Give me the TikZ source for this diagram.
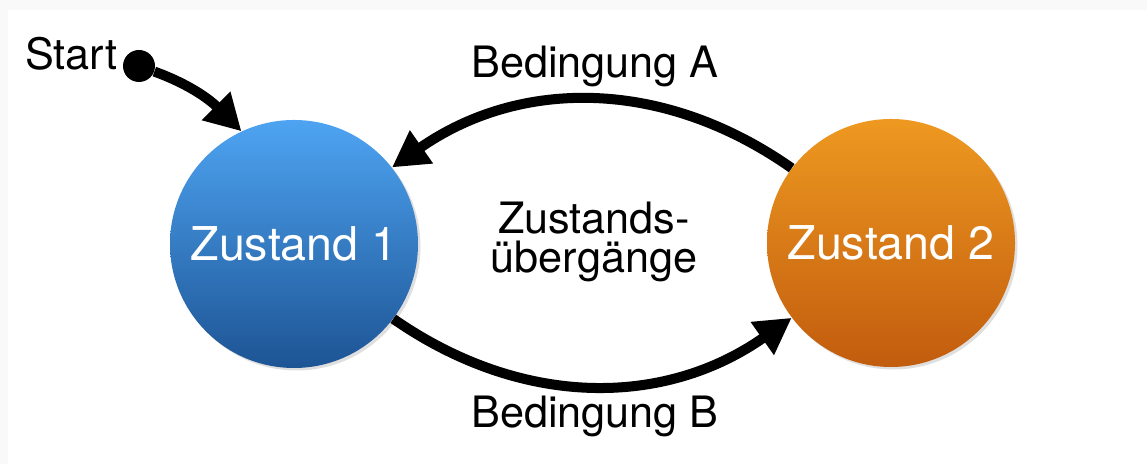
\documentclass[tikz,border=0pt]{standalone}
\usepackage{fontspec}
\setmainfont{TeX Gyre Heros}
\usepackage{tikz}
\usetikzlibrary{arrows.meta,positioning,shadows}
\definecolor{frameGray}{RGB}{249,249,249}
\definecolor{blueTop}{RGB}{78,164,242}
\definecolor{blueBottom}{RGB}{29,84,148}
\definecolor{orangeTop}{RGB}{238,153,33}
\definecolor{orangeBottom}{RGB}{194,92,14}

\begin{document}
\begin{tikzpicture}[
  state/.style={circle, minimum size=4.96cm, inner sep=0pt, text=white,
    font=\fontsize{26.5}{30}\selectfont,
    drop shadow={opacity=0.25, shadow xshift=0.05cm, shadow yshift=-0.05cm}},
  edgearrow/.style={line width=5.7pt, -{Triangle[length=0.72cm, width=0.76cm]}},
  lbl/.style={font=\fontsize{24.6}{22.5}\selectfont, inner sep=0pt}
]
\fill[frameGray] (0,0) rectangle (22.94,9.28);
\fill[white] (0.16,0) rectangle (22.94,9.08);
\useasboundingbox (0,0) rectangle (22.94,9.28);

\node[state, top color=blueTop, bottom color=blueBottom] (z1) at (5.88,4.40) {Zustand 1};
\node[state, top color=orangeTop, bottom color=orangeBottom] (z2) at (17.82,4.42) {Zustand 2};

\node[circle, fill=black, minimum size=0.64cm, inner sep=0pt] (dot) at (2.78,7.96) {};
\node[lbl, anchor=base east] (start) at (2.36,7.88) {Start};
\draw[edgearrow] (dot) to[out=-20, in=135] (z1.115);

\draw[edgearrow] (z2.143) to[bend right=35] (z1.38);
\draw[edgearrow] (z1.323) to[bend right=35] (z2.217);
\node[lbl, anchor=base] (condA) at (11.90,7.72) {Bedingung A};
\node[lbl, anchor=base] (condB) at (11.90,0.72) {Bedingung B};
\node[lbl, align=center] (change) at (11.88,4.44) {Zustands-\\übergänge};
\end{tikzpicture}
\end{document}
